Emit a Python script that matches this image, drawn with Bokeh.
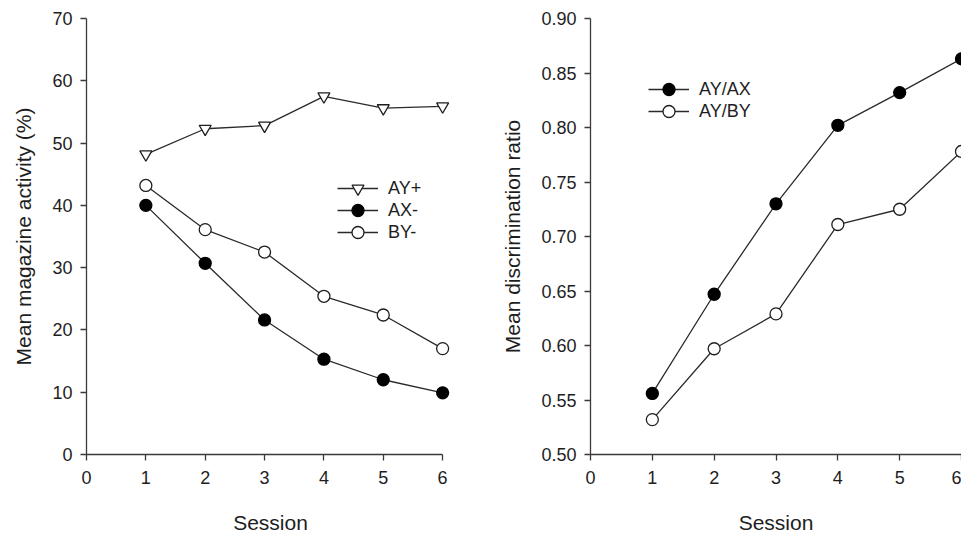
from bokeh.plotting import figure
from bokeh.layouts import row
from bokeh.models import FixedTicker, Legend, LegendItem, PrintfTickFormatter, Range1d
from bokeh.embed import file_html
from bokeh.resources import INLINE

sessions = [1, 2, 3, 4, 5, 6]
ay_plus = [48.2, 52.3, 52.8, 57.5, 55.6, 55.9]
ax_minus = [40.0, 30.7, 21.6, 15.3, 12.0, 9.9]
by_minus = [43.2, 36.1, 32.5, 25.4, 22.4, 17.0]
ay_ax = [0.556, 0.647, 0.730, 0.802, 0.832, 0.863]
ay_by = [0.532, 0.597, 0.629, 0.711, 0.725, 0.778]
x_ticks = [0, 1, 2, 3, 4, 5, 6]
left_y_ticks = [0, 10, 20, 30, 40, 50, 60, 70]
right_y_ticks = [0.50, 0.55, 0.60, 0.65, 0.70, 0.75, 0.80, 0.85, 0.90]

FONT = "Liberation Sans"
INK = "#1e1e1e"
LINE = "#2a2a2a"
LW = 1.3


def style(p, ylabel, yticks):
    p.xaxis.axis_label = "Session"
    p.yaxis.axis_label = ylabel
    p.xaxis.ticker = FixedTicker(ticks=x_ticks)
    p.yaxis.ticker = FixedTicker(ticks=yticks)
    p.xgrid.visible = False
    p.ygrid.visible = False
    p.outline_line_color = None
    for ax in (p.xaxis[0], p.yaxis[0]):
        ax.axis_line_color = "#3a3a3a"
        ax.axis_line_width = 1.3
        ax.major_tick_line_color = "#3a3a3a"
        ax.major_tick_line_width = 1.3
        ax.major_tick_out = 6
        ax.major_tick_in = 0
        ax.minor_tick_out = 0
        ax.minor_tick_in = 0
        ax.major_label_text_font = FONT
        ax.major_label_text_font_size = "18px"
        ax.major_label_text_color = INK
        ax.axis_label_text_font = FONT
        ax.axis_label_text_font_size = "21px"
        ax.axis_label_text_font_style = "normal"
        ax.axis_label_text_color = INK
    p.xaxis.major_label_standoff = 10
    p.yaxis.major_label_standoff = 8
    p.xaxis.axis_label_standoff = 24
    p.yaxis.axis_label_standoff = 14
    p.xaxis.bounds = (0, 6)


def add_legend_row(p, item, loc):
    # one legend per row so that rows can sit closer than the glyph box
    lg = Legend(items=[item], location=loc)
    lg.padding = 0
    lg.margin = 0
    lg.spacing = 0
    lg.glyph_width = 41
    lg.glyph_height = 30
    lg.label_height = 30
    lg.label_standoff = 10
    lg.border_line_alpha = 0
    lg.background_fill_alpha = 0
    lg.label_text_font = FONT
    lg.label_text_font_size = "18px"
    lg.label_text_color = INK
    p.add_layout(lg)


# Left panel
p1 = figure(width=468, height=548, output_backend="svg", toolbar_location=None,
            x_range=Range1d(0, 6.2), y_range=Range1d(0, 70),
            min_border_left=86, min_border_right=14, min_border_top=18, min_border_bottom=94)
style(p1, "Mean magazine activity (%)", left_y_ticks)
p1.yaxis.bounds = (0, 70)

l_ay = p1.line(sessions, ay_plus, line_color=LINE, line_width=LW)
s_ay = p1.scatter(sessions, ay_plus, marker="inverted_triangle", size=12,
                  fill_color="white", line_color=INK, line_width=LW)
l_ax = p1.line(sessions, ax_minus, line_color=LINE, line_width=LW)
s_ax = p1.scatter(sessions, ax_minus, marker="circle", size=12,
                  fill_color="black", line_color="black", line_width=LW)
l_by = p1.line(sessions, by_minus, line_color=LINE, line_width=LW)
s_by = p1.scatter(sessions, by_minus, marker="circle", size=12,
                  fill_color="white", line_color=INK, line_width=LW)

add_legend_row(p1, LegendItem(label="AY+", renderers=[l_ay, s_ay]), (251, 251))
add_legend_row(p1, LegendItem(label="AX-", renderers=[l_ax, s_ax]), (251, 229))
add_legend_row(p1, LegendItem(label="BY-", renderers=[l_by, s_by]), (251, 207))

# Right panel
p2 = figure(width=493, height=548, output_backend="svg", toolbar_location=None,
            x_range=Range1d(0, 6), y_range=Range1d(0.5, 0.9),
            min_border_left=122, min_border_right=0, min_border_top=18, min_border_bottom=94)
style(p2, "Mean discrimination ratio", right_y_ticks)
p2.yaxis.formatter = PrintfTickFormatter(format="%.2f")
p2.yaxis.bounds = (0.5, 0.9)

l_r1 = p2.line(sessions, ay_ax, line_color=LINE, line_width=LW)
s_r1 = p2.scatter(sessions, ay_ax, marker="circle", size=12,
                  fill_color="black", line_color="black", line_width=LW)
l_r2 = p2.line(sessions, ay_by, line_color=LINE, line_width=LW)
s_r2 = p2.scatter(sessions, ay_by, marker="circle", size=12,
                  fill_color="white", line_color=INK, line_width=LW)

add_legend_row(p2, LegendItem(label="AY/AX", renderers=[l_r1, s_r1]), (58, 350))
add_legend_row(p2, LegendItem(label="AY/BY", renderers=[l_r2, s_r2]), (58, 328))

layout = row(p1, p2)
open("out.html", "w").write(file_html(layout, INLINE))
